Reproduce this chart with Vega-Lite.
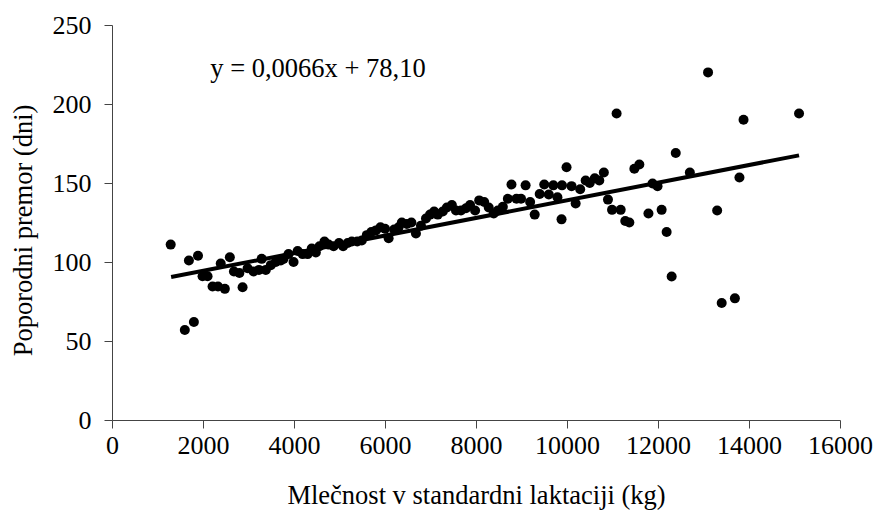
{
  "$schema": "https://vega.github.io/schema/vega-lite/v6.json",
  "width": 728,
  "height": 395,
  "autosize": "none",
  "padding": {"left": 112, "top": 25, "right": 36, "bottom": 100},
  "background": "white",
  "config": {
    "view": {"stroke": null},
    "font": "Liberation Serif",
    "axis": {
      "labelFont": "Liberation Serif",
      "titleFont": "Liberation Serif",
      "labelFontSize": 26,
      "titleFontSize": 26.5,
      "titleFontWeight": "normal",
      "labelColor": "black",
      "titleColor": "black",
      "domainColor": "#444",
      "tickColor": "#444",
      "tickSize": 8,
      "grid": false,
      "labelOverlap": false,
      "labelFlush": false,
      "labelBound": false
    }
  },
  "datasets": {
    "pts": [
      {"x": 1290, "y": 111}, {"x": 1600, "y": 57}, {"x": 1800, "y": 62}, {"x": 1690, "y": 101},
      {"x": 1890, "y": 104}, {"x": 1990, "y": 91}, {"x": 2100, "y": 91}, {"x": 2210, "y": 84.5},
      {"x": 2330, "y": 84.5}, {"x": 2480, "y": 83}, {"x": 2390, "y": 99}, {"x": 2590, "y": 103},
      {"x": 2680, "y": 94}, {"x": 2800, "y": 93}, {"x": 2870, "y": 84}, {"x": 2980, "y": 96},
      {"x": 3110, "y": 94}, {"x": 3230, "y": 95}, {"x": 3290, "y": 102}, {"x": 3380, "y": 95},
      {"x": 3490, "y": 98}, {"x": 3600, "y": 100}, {"x": 3710, "y": 101}, {"x": 3770, "y": 102},
      {"x": 3880, "y": 105}, {"x": 3990, "y": 100}, {"x": 4080, "y": 107}, {"x": 4190, "y": 105},
      {"x": 4300, "y": 105}, {"x": 4390, "y": 108.5}, {"x": 4480, "y": 106}, {"x": 4560, "y": 110},
      {"x": 4670, "y": 113}, {"x": 4760, "y": 111}, {"x": 4870, "y": 110}, {"x": 4990, "y": 112},
      {"x": 5080, "y": 110}, {"x": 5180, "y": 112}, {"x": 5270, "y": 113}, {"x": 5390, "y": 113},
      {"x": 5490, "y": 113.6}, {"x": 5600, "y": 117}, {"x": 5700, "y": 119}, {"x": 5800, "y": 120},
      {"x": 5900, "y": 122}, {"x": 6000, "y": 121}, {"x": 6080, "y": 115}, {"x": 6200, "y": 120.6},
      {"x": 6300, "y": 122}, {"x": 6370, "y": 125}, {"x": 6480, "y": 124}, {"x": 6580, "y": 125},
      {"x": 6680, "y": 118}, {"x": 6790, "y": 123}, {"x": 6900, "y": 127.5}, {"x": 6990, "y": 130},
      {"x": 7080, "y": 132}, {"x": 7160, "y": 130}, {"x": 7270, "y": 132}, {"x": 7360, "y": 134.5},
      {"x": 7470, "y": 136}, {"x": 7560, "y": 132.6}, {"x": 7670, "y": 132.6}, {"x": 7780, "y": 134},
      {"x": 7870, "y": 136}, {"x": 7980, "y": 132.6}, {"x": 8070, "y": 139}, {"x": 8180, "y": 138},
      {"x": 8280, "y": 134.5}, {"x": 8390, "y": 130.7}, {"x": 8480, "y": 132.6}, {"x": 8590, "y": 135},
      {"x": 8700, "y": 140}, {"x": 8780, "y": 149}, {"x": 8890, "y": 140}, {"x": 8990, "y": 140},
      {"x": 9090, "y": 148.5}, {"x": 9190, "y": 138}, {"x": 9290, "y": 130}, {"x": 9400, "y": 143},
      {"x": 9500, "y": 149}, {"x": 9600, "y": 142.7}, {"x": 9700, "y": 148.5}, {"x": 9790, "y": 141},
      {"x": 9890, "y": 148.5}, {"x": 9880, "y": 127}, {"x": 9990, "y": 160}, {"x": 10100, "y": 148},
      {"x": 10190, "y": 137}, {"x": 10290, "y": 146}, {"x": 10410, "y": 151.6}, {"x": 10500, "y": 150},
      {"x": 10610, "y": 153}, {"x": 10710, "y": 151.6}, {"x": 10810, "y": 156.6}, {"x": 10900, "y": 139.5},
      {"x": 10990, "y": 133}, {"x": 11090, "y": 194}, {"x": 11180, "y": 133}, {"x": 11280, "y": 126},
      {"x": 11370, "y": 125}, {"x": 11480, "y": 159}, {"x": 11590, "y": 161.7}, {"x": 11790, "y": 130.7},
      {"x": 11880, "y": 149.7}, {"x": 11990, "y": 148}, {"x": 12080, "y": 133}, {"x": 12190, "y": 119},
      {"x": 12300, "y": 90.8}, {"x": 12390, "y": 169}, {"x": 12700, "y": 156.6}, {"x": 13100, "y": 220},
      {"x": 13300, "y": 132.6}, {"x": 13400, "y": 74}, {"x": 13690, "y": 77}, {"x": 13790, "y": 153.5},
      {"x": 13880, "y": 190}, {"x": 15100, "y": 194}
    ],
    "fit": [
      {"x": 1300, "y": 90.5},
      {"x": 15100, "y": 167.5}
    ],
    "eq": [
      {"x": 2160, "y": 217, "label": "y = 0,0066x + 78,10"}
    ]
  },
  "layer": [
    {
      "data": {"name": "pts"},
      "mark": {"type": "circle", "size": 100, "color": "black", "opacity": 1},
      "encoding": {
        "x": {
          "field": "x", "type": "quantitative",
          "scale": {"domain": [0, 16000], "nice": false, "zero": false},
          "axis": {
            "title": "Mlečnost v standardni laktaciji (kg)",
            "values": [0, 2000, 4000, 6000, 8000, 10000, 12000, 14000, 16000],
            "format": "d",
            "labelPadding": 4,
            "titlePadding": 24
          }
        },
        "y": {
          "field": "y", "type": "quantitative",
          "scale": {"domain": [0, 250], "nice": false},
          "axis": {
            "title": "Poporodni premor (dni)",
            "titleY": 205,
            "values": [0, 50, 100, 150, 200, 250],
            "labelPadding": 13,
            "titlePadding": 15
          }
        }
      }
    },
    {
      "data": {"name": "fit"},
      "mark": {"type": "line", "color": "black", "strokeWidth": 4},
      "encoding": {
        "x": {"field": "x", "type": "quantitative"},
        "y": {"field": "y", "type": "quantitative"}
      }
    },
    {
      "data": {"name": "eq"},
      "mark": {"type": "text", "align": "left", "baseline": "alphabetic", "font": "Liberation Serif", "fontSize": 26.5, "color": "black"},
      "encoding": {
        "x": {"field": "x", "type": "quantitative"},
        "y": {"field": "y", "type": "quantitative"},
        "text": {"field": "label"}
      }
    }
  ]
}
